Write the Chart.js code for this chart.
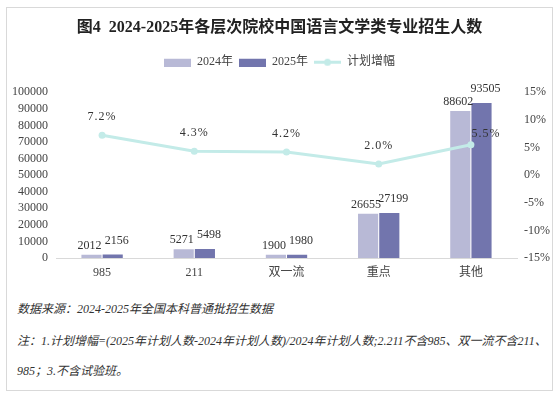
<!DOCTYPE html>
<html>
<head>
<meta charset="utf-8">
<script src="https://cdn.jsdelivr.net/npm/chart.js@4.4.0/dist/chart.umd.min.js"></script>
<style>
    body { margin: 0; background: #fff; }
    #wrap { position: relative; width: 559px; height: 396px; overflow: hidden; }
    #frame { position: absolute; left: 6px; top: 7px; width: 545px; height: 382px; border: 1px solid #d9d9d9; }
    #chartBox { position: absolute; left: 0; top: 0; width: 559px; height: 290px; }
    .note { position: absolute; left: 17px; font-family: "Liberation Serif", "Noto Sans CJK SC", serif;
            font-style: italic; font-size: 12px; color: #333; white-space: nowrap; }
</style>
</head>
<body>
<div id="wrap">
    <div id="frame"></div>
    <div id="chartBox"><canvas id="mainChart" width="559" height="290"></canvas></div>
    <div class="note" style="top:299px">数据来源：2024-2025年全国本科普通批招生数据</div>
    <div class="note" style="top:331px">注：1.计划增幅=(2025年计划人数-2024年计划人数)/2024年计划人数;2.211不含985、双一流不含211、</div>
    <div class="note" style="top:361px">985；3.不含试验班。</div>
</div>
<script>
const categories = ['985', '211', '双一流', '重点', '其他'];
const plan2024 = [2012, 5271, 1900, 26655, 88602];
const plan2025 = [2156, 5498, 1980, 27199, 93505];
const growth = [7.2, 4.3, 4.2, 2.0, 5.5];
const seriesNames = ['2024年', '2025年', '计划增幅'];

const c2024 = '#b8b9d6';
const c2025 = '#7275ad';
const cLine = '#c3ebe8';
const serif = '"Liberation Serif", "Noto Sans CJK SC", serif';

// little images for the legend markers
function swatch(kind, color) {
    const cv = document.createElement('canvas');
    cv.width = 27; cv.height = 9;
    const g = cv.getContext('2d');
    if (kind === 'bar') {
        g.fillStyle = color;
        g.fillRect(0, 1, 27, 8);
    } else {
        g.strokeStyle = color;
        g.lineWidth = 3;
        g.beginPath(); g.moveTo(0, 4.5); g.lineTo(27, 4.5); g.stroke();
        g.fillStyle = color;
        g.beginPath(); g.arc(13.5, 4.5, 3.5, 0, Math.PI * 2); g.fill();
    }
    return cv;
}

const valueLabels = {
    id: 'valueLabels',
    afterDatasetsDraw(chart) {
        const ctx = chart.ctx;
        ctx.save();
        ctx.fillStyle = '#333';
        ctx.font = '12px ' + serif;
        ctx.textAlign = 'center';
        ctx.textBaseline = 'bottom';
        chart.getDatasetMeta(0).data.forEach((bar, i) => {
            ctx.fillText(plan2024[i], bar.x - 2, bar.y - 3);
        });
        chart.getDatasetMeta(1).data.forEach((bar, i) => {
            ctx.fillText(plan2025[i], bar.x + 4, bar.y - 8);
        });
        ctx.letterSpacing = '1px';
        chart.getDatasetMeta(2).data.forEach((pt, i) => {
            const txt = growth[i].toFixed(1) + '%';
            if (i === growth.length - 1) {
                ctx.fillText(txt, pt.x + 15, pt.y - 5);
            } else {
                ctx.fillText(txt, pt.x, pt.y - 12);
            }
        });
        ctx.restore();
    }
};

new Chart(document.getElementById('mainChart'), {
    type: 'bar',
    data: {
        labels: categories,
        datasets: [
            { label: seriesNames[0], data: plan2024, backgroundColor: c2024, yAxisID: 'y', order: 2,
              barPercentage: 0.95, categoryPercentage: 0.46 },
            { label: seriesNames[1], data: plan2025, backgroundColor: c2025, yAxisID: 'y', order: 2,
              barPercentage: 0.95, categoryPercentage: 0.46 },
            { type: 'line', label: seriesNames[2], data: growth, yAxisID: 'y1', order: 1,
              borderColor: cLine, backgroundColor: cLine, borderWidth: 3,
              pointRadius: 3.5, pointBackgroundColor: cLine, pointBorderWidth: 0, tension: 0 }
        ]
    },
    options: {
        responsive: false,
        animation: false,
        layout: { padding: { left: 0, right: 0, top: 0, bottom: 0 } },
        plugins: {
            title: {
                display: true,
                text: '图4  2024-2025年各层次院校中国语言文学类专业招生人数',
                color: '#222',
                font: { family: serif, size: 16, weight: 'bold' },
                padding: { top: 18, bottom: 13 }
            },
            legend: {
                display: true,
                labels: {
                    usePointStyle: true,
                    pointStyleWidth: 27,
                    boxHeight: 9,
                    padding: 6,
                    color: '#444',
                    font: { family: serif, size: 12 },
                    generateLabels(chart) {
                        return chart.data.datasets.map((ds, i) => ({
                            text: ds.label,
                            pointStyle: swatch(i < 2 ? 'bar' : 'line', i === 0 ? c2024 : i === 1 ? c2025 : cLine),
                            fontColor: '#444',
                            datasetIndex: i,
                            hidden: false,
                            lineWidth: 0
                        }));
                    }
                }
            },
            tooltip: { enabled: false }
        },
        scales: {
            x: {
                grid: { display: false, drawTicks: false },
                border: { display: true, color: '#d9d9d9' },
                ticks: { color: '#444', font: { family: serif, size: 12 }, padding: 8 },
                afterFit(scale) { scale.height = 32; }
            },
            y: {
                position: 'left',
                min: 0, max: 100000,
                grid: { display: false, drawTicks: false },
                border: { display: false },
                ticks: { stepSize: 10000, autoSkip: false, color: '#444', font: { family: serif, size: 12 },
                         padding: 8, callback: v => String(v) },
                afterFit(scale) { scale.width = 56; }
            },
            y1: {
                position: 'right',
                min: -15, max: 15,
                grid: { display: false, drawTicks: false },
                border: { display: false },
                ticks: { stepSize: 5, autoSkip: false, color: '#444', font: { family: serif, size: 12 }, padding: 7,
                         callback: v => v + '%' },
                afterFit(scale) { scale.width = 42; }
            }
        }
    },
    plugins: [valueLabels, {
        id: 'legendGap',
        beforeInit(chart) {
            const fit = chart.legend.fit;
            chart.legend.fit = function () {
                fit.call(this);
                this.height += 14;
            };
        }
    }]
});
</script>
</body>
</html>
